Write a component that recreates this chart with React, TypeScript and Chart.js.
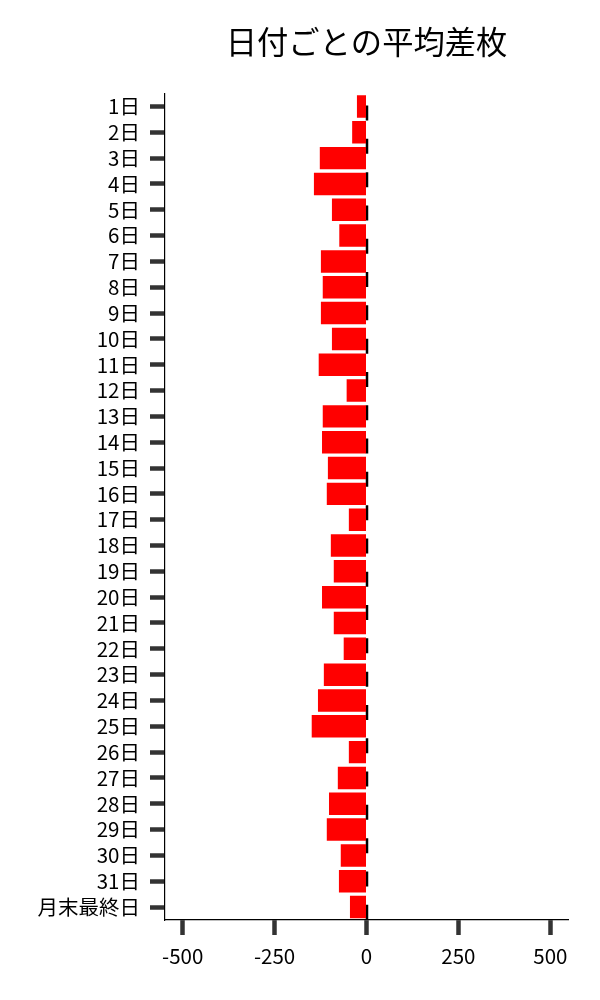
import React, { useEffect, useRef } from "react";
import { Chart, registerables } from "chart.js";

Chart.register(...registerables);

const categories = [
  "1日", "2日", "3日", "4日", "5日", "6日", "7日", "8日", "9日", "10日",
  "11日", "12日", "13日", "14日", "15日", "16日", "17日", "18日", "19日", "20日",
  "21日", "22日", "23日", "24日", "25日", "26日", "27日", "28日", "29日", "30日",
  "31日", "月末最終日",
];

const avgDiff = [
  -26, -39, -127, -143, -94, -74, -124, -119, -124, -94,
  -130, -54, -119, -121, -105, -108, -48, -97, -89, -121,
  -89, -62, -116, -132, -149, -48, -78, -102, -108, -70,
  -75, -45,
];

const xTicks = [-500, -250, 0, 250, 500];

const titleText = "日付ごとの平均差枚";

const FONT = "'Noto Sans CJK JP', 'Noto Sans', sans-serif";

const zeroLinePlugin = {
  id: "zeroLine",
  beforeDatasetsDraw(chart: any) {
    const { ctx, chartArea, scales } = chart;
    const x = scales.x.getPixelForValue(0);
    ctx.save();
    ctx.strokeStyle = "#000";
    ctx.lineWidth = 2.5;
    ctx.setLineDash([15, 18.3]);
    ctx.lineDashOffset = 21.3;
    ctx.beginPath();
    ctx.moveTo(x + 0.5, chartArea.top);
    ctx.lineTo(x + 0.5, chartArea.bottom);
    ctx.stroke();
    ctx.restore();
  },
};

export default function App() {
  const canvasRef = useRef<HTMLCanvasElement | null>(null);

  useEffect(() => {
    if (!canvasRef.current) return;
    const chart = new Chart(canvasRef.current, {
      type: "bar",
      data: {
        labels: categories,
        datasets: [
          {
            data: avgDiff,
            backgroundColor: "#ff0000",
            borderWidth: 0,
            barPercentage: 0.87,
            categoryPercentage: 1,
          },
        ],
      },
      options: {
        indexAxis: "y",
        animation: false,
        responsive: true,
        maintainAspectRatio: false,
        layout: { padding: { left: 0, right: 32, top: 0, bottom: 0 } },
        plugins: {
          legend: { display: false },
          tooltip: { enabled: false },
          title: {
            display: true,
            text: titleText,
            fullSize: false,
            color: "#000",
            font: { family: FONT, size: 31.3, weight: "normal", lineHeight: 1.2 },
            padding: { top: 23, bottom: 33 },
          },
        },
        scales: {
          x: {
            type: "linear",
            min: -548,
            max: 548,
            afterBuildTicks: (scale: any) => {
              scale.ticks = xTicks.map((v) => ({ value: v }));
            },
            afterFit: (scale: any) => {
              scale.height = 80;
            },
            grid: {
              display: true,
              drawOnChartArea: false,
              drawTicks: true,
              tickLength: 15,
              tickWidth: 4.5,
              tickColor: "#333",
            },
            border: { display: true, color: "#000", width: 1.2 },
            ticks: {
              color: "#000",
              padding: 9,
              maxRotation: 0,
              font: { family: FONT, size: 20.5 },
            },
          },
          y: {
            type: "category",
            afterFit: (scale: any) => {
              scale.width = 165;
            },
            grid: {
              display: true,
              offset: false,
              drawOnChartArea: false,
              drawTicks: true,
              tickLength: 15,
              tickWidth: 4.5,
              tickColor: "#333",
            },
            border: { display: true, color: "#000", width: 1.2 },
            ticks: {
              color: "#000",
              padding: 10,
              autoSkip: false,
              font: { family: FONT, size: 20.5 },
            },
          },
        },
      },
      plugins: [zeroLinePlugin],
    });
    return () => chart.destroy();
  }, []);

  return (
    <div style={{ position: "absolute", left: 0, top: 0, width: 600, height: 1000, background: "#fff" }}>
      <canvas ref={canvasRef} style={{ width: "100%", height: "100%" }} />
    </div>
  );
}
